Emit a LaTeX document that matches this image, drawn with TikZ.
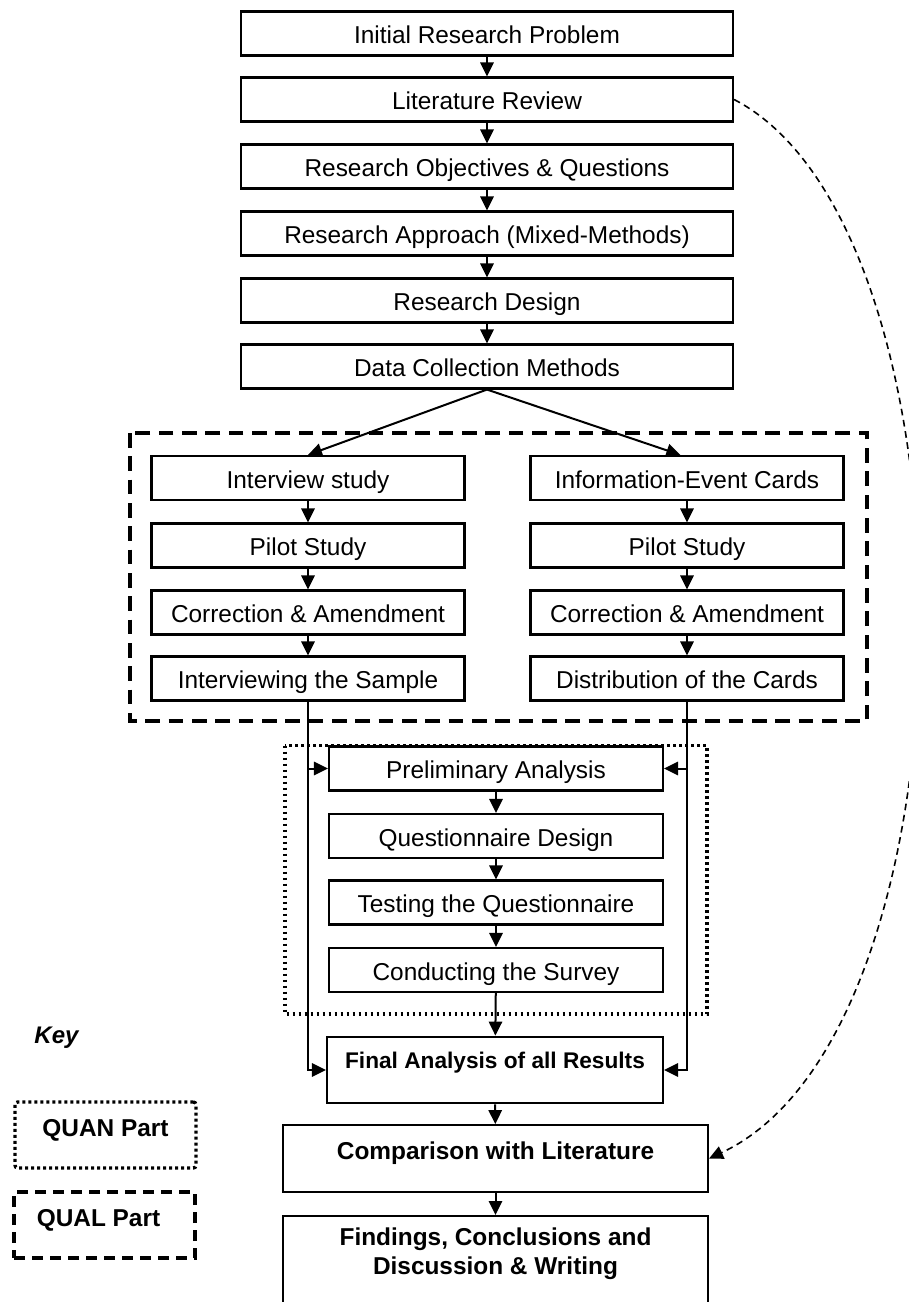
\documentclass[tikz,border=0pt]{standalone}
\usepackage{fontspec}
\setmainfont{Liberation Sans}
\usetikzlibrary{arrows.meta}
\begin{document}
\begin{tikzpicture}[x=0.75pt,y=-0.75pt,
  box/.style={draw, line width=1.6pt, minimum height=33pt, inner sep=0pt,
    font=\fontsize{18.3}{22}\selectfont, text height=18pt, text depth=3pt},
  topbox/.style={box, minimum width=369pt},
  colbox/.style={box, minimum width=234.75pt},
  quanbox/.style={box, minimum width=250.5pt},
  boldbox/.style={draw, line width=1.6pt, inner sep=0pt, minimum height=50pt,
    font=\bfseries\fontsize{18.3}{22}\selectfont},
  arr/.style={line width=1.5pt, -{Triangle[length=10.5pt,width=10pt]}},
  qualline/.style={dash pattern=on 11pt off 6.5pt, line width=2.5pt},
  quanline/.style={dash pattern=on 2.2pt off 2.3pt, line width=2.5pt},
  curveline/.style={dash pattern=on 5pt off 3.5pt, line width=1.2pt, -{Triangle[length=10.5pt,width=10pt]}},
  keytext/.style={font=\bfseries\fontsize{18.3}{22}\selectfont}
]
\clip (0,0) rectangle (909,1302);
\fill[white] (0,0) rectangle (909,1302);

% group frames
\draw[qualline] (130,433) rectangle (867,721);
\draw[quanline] (285,745.5) rectangle (707,1014);

% top chain
\node[topbox] (t1) at (487,33.5) {Initial Research Problem};
\node[topbox] (t2) at (487,99.5) {Literature Review};
\node[topbox] (t3) at (487,166.5) {Research Objectives \& Questions};
\node[topbox] (t4) at (487,233.5) {Research Approach (Mixed-Methods)};
\node[topbox] (t5) at (487,300.5) {Research Design};
\node[topbox] (t6) at (487,366.5) {Data Collection Methods};

% QUAL columns
\node[colbox] (l1) at (308,478) {Interview study};
\node[colbox] (l2) at (308,545.5) {Pilot Study};
\node[colbox] (l3) at (308,612.5) {Correction \& Amendment};
\node[colbox] (l4) at (308,678.5) {Interviewing the Sample};
\node[colbox] (r1) at (687,478) {Information-Event Cards};
\node[colbox] (r2) at (687,545.5) {Pilot Study};
\node[colbox] (r3) at (687,612.5) {Correction \& Amendment};
\node[colbox] (r4) at (687,678.5) {Distribution of the Cards};

% QUAN chain
\node[quanbox] (q1) at (496,768.5) {Preliminary Analysis};
\node[quanbox] (q2) at (496,836) {Questionnaire Design};
\node[quanbox] (q3) at (496,902.5) {Testing the Questionnaire};
\node[quanbox] (q4) at (496,970) {Conducting the Survey};

% final part
\node[boldbox, minimum width=252pt, font=\bfseries\fontsize{17}{20}\selectfont,
  text height=13pt, text depth=15pt] (fin) at (495,1070) {Final Analysis of all Results};
\node[boldbox, minimum width=318.75pt, text height=13pt, text depth=12pt]
  (comp) at (495.5,1158.5) {Comparison with Literature};
\node[boldbox, minimum width=318.75pt, minimum height=90pt, anchor=north]
  (find) at (495.5,1215) {};
\node[align=center, font=\bfseries\fontsize{18.3}{21.75}\selectfont]
  (findtext) at (495.5,1253.5) {Findings, Conclusions and\\Discussion \& Writing};

% key
\node[font=\bfseries\itshape\fontsize{18}{22}\selectfont] (key) at (56.5,1038) {Key};
\node[keytext, quanline, draw, rounded corners=2pt, minimum width=135.75pt,
  minimum height=49.5pt, inner sep=0pt, text height=13pt, text depth=10.5pt]
  (kquan) at (105.5,1135) {QUAN Part};
\node[keytext, qualline, dash pattern=on 8pt off 5.5pt, draw, minimum width=135.75pt,
  minimum height=49.5pt, inner sep=0pt, text height=13pt, text depth=10.5pt]
  (kqual) at (104.5,1225) {QUAL Part\hspace*{9pt}};

% connectors
\draw[arr] (t1) -- (t2);
\draw[arr] (t2) -- (t3);
\draw[arr] (t3) -- (t4);
\draw[arr] (t4) -- (t5);
\draw[arr] (t5) -- (t6);
\draw[arr] (t6.south) -- (l1.north);
\draw[arr] (t6.south) -- ([xshift=-5pt]r1.north);
\draw[arr] (l1) -- (l2);
\draw[arr] (l2) -- (l3);
\draw[arr] (l3) -- (l4);
\draw[arr] (r1) -- (r2);
\draw[arr] (r2) -- (r3);
\draw[arr] (r3) -- (r4);
\draw[arr] (q1) -- (q2);
\draw[arr] (q2) -- (q3);
\draw[arr] (q3) -- (q4);
\draw[arr] (q4) -- (fin);
\draw[arr] (fin) -- (comp);
\draw[arr] (comp) -- (find);
\draw[arr] (l4.south) |- (fin.west);
\draw[arr] (l4.south |- q1.west) -- (q1.west);
\draw[arr] (r4.south) |- (fin.east);
\draw[arr] (r4.south |- q1.east) -- (q1.east);
\draw[curveline] (t2.east) .. controls (984,229) and (984,1030) .. (comp.east);
\end{tikzpicture}
\end{document}
